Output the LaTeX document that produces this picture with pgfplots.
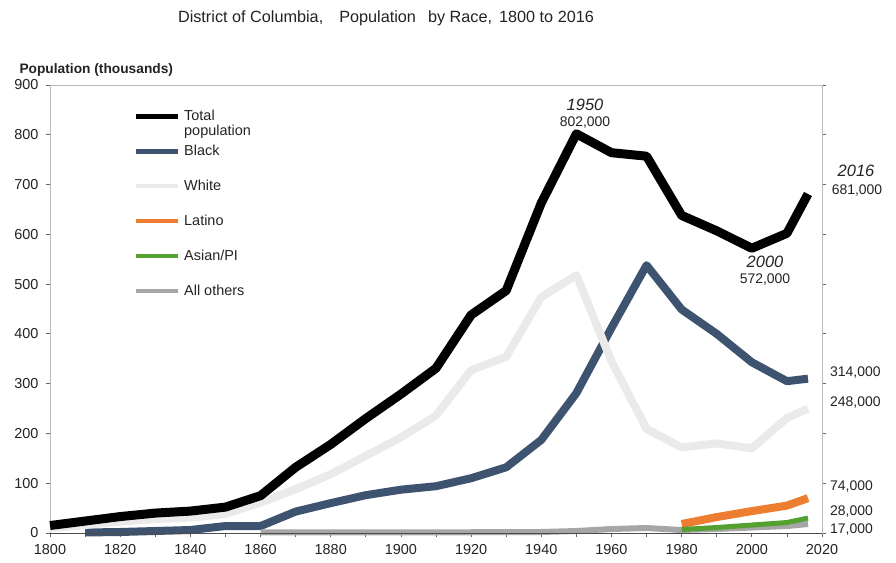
\documentclass[border=0pt]{standalone}
\usepackage{pgfplots}
\pgfplotsset{compat=1.18}
\usepackage{fontspec}
\setmainfont{Liberation Sans}
\definecolor{cblue}{RGB}{61,83,112}
\definecolor{cwhite}{RGB}{234,234,234}
\definecolor{corange}{RGB}{237,125,49}
\definecolor{cgreen}{RGB}{84,160,48}
\definecolor{cgray}{RGB}{166,166,166}
\definecolor{txt}{RGB}{35,35,35}
\begin{document}
\begin{tikzpicture}[x=1bp,y=1bp]
\path[use as bounding box] (0,0) rectangle (896,563);
\begin{axis}[
  at={(50bp,30bp)}, anchor=south west,
  scale only axis, width=772bp, height=448bp,
  xmin=1800, xmax=2020, ymin=0, ymax=900,
  xtick={1800,1820,...,2020}, minor xtick={1810,1830,...,2010},
  ytick={0,100,...,900},
  xtick pos=bottom, ytick pos=both, yticklabel pos=left,
  tick align=outside,
  major tick length=4bp, minor tick length=4bp,
  tick style={color=black!60, line width=0.8bp},
  axis line style={draw=black!28, line width=0.8bp},
  ticklabel style={font=\fontsize{14.5}{16}\selectfont, text=txt},
  yticklabel style={xshift=-4bp},
  xticklabel style={yshift=-4bp},
  /pgf/number format/assume math mode=true,
  /pgf/number format/1000 sep={},
  legend style={at={(0.1075,0.946)}, anchor=north west, draw=none, fill=none,
    inner sep=0pt, row sep=21bp, column sep=4bp,
    font=\fontsize{14.5}{16}\selectfont, text=txt,
    nodes={inner sep=0pt, text height=11bp, text depth=3bp}},
  legend cell align=left,
  legend image code/.code={\draw[#1] (0bp,0bp) -- (42bp,0bp);},
  after end axis/.code={\draw[black!70, line width=0.9bp] (rel axis cs:0,0) -- (rel axis cs:1,0);},
  clip=false,
]
\addlegendimage{black, line width=5bp}
\addlegendentry{\smash{\rlap{Total}\raisebox{-15bp}{population}}}
\addlegendimage{cblue, line width=5bp}
\addlegendentry{Black}
\addlegendimage{cwhite, line width=4bp}
\addlegendentry{White}
\addlegendimage{corange, line width=4bp}
\addlegendentry{Latino}
\addlegendimage{cgreen, line width=4bp}
\addlegendentry{Asian/PI}
\addlegendimage{cgray, line width=4bp}
\addlegendentry{All others}

% Black
\addplot[cblue, line width=8bp, line join=round, forget plot] coordinates {
(1810,1) (1820,2) (1830,4) (1840,6) (1850,14) (1860,14) (1870,43) (1880,60)
(1890,76) (1900,87) (1910,94) (1920,110) (1930,132) (1940,187) (1950,281)
(1960,412) (1970,538) (1980,449) (1990,400) (2000,343) (2010,305) (2016,310)};
% White
\addplot[cwhite, line width=8bp, line join=round, forget plot] coordinates {
(1800,10) (1810,16) (1820,23) (1830,28) (1840,31) (1850,38) (1860,61) (1870,88)
(1880,118) (1890,155) (1900,192) (1910,236) (1920,327) (1930,354) (1940,474)
(1950,518) (1960,345) (1970,209) (1980,172) (1990,180) (2000,170) (2010,231) (2016,250)};
% All others
\addplot[cgray, line width=6bp, line join=round, forget plot] coordinates {
(1860,1) (1900,1) (1940,2) (1950,4) (1960,8) (1970,10) (1980,6)
(1990,8) (2000,11) (2010,14) (2016,18)};
% Latino
\addplot[corange, line width=8bp, line join=round, forget plot] coordinates {
(1980,18) (1990,32) (2000,44) (2010,55) (2016,70)};
% Asian/PI
\addplot[cgreen, line width=5bp, line join=round, forget plot] coordinates {
(1980,7) (1990,11) (2000,16) (2010,21) (2016,30)};
% Total
\addplot[black, line width=9bp, line join=round, forget plot] coordinates {
(1800,15) (1810,24) (1820,33) (1830,40) (1840,44) (1850,52) (1860,75) (1870,132)
(1880,178) (1890,230) (1900,279) (1910,331) (1920,438) (1930,487) (1940,663)
(1950,802) (1960,764) (1970,757) (1980,638) (1990,607) (2000,572) (2010,602) (2016,681)};
\end{axis}
\node[font=\fontsize{16.3}{18}\selectfont, text=txt] at (386,545) {District of Columbia,\hspace{16bp}Population\hspace{12bp}by Race,\hspace{7bp}1800 to 2016};
\node[anchor=west, font=\bfseries\fontsize{13.8}{16}\selectfont, text=txt] at (16,493) {Population (thousands)};
\begin{scope}[every node/.style={text=txt, inner sep=0pt}]
\node[font=\itshape\fontsize{16.5}{18}\selectfont] at (585,458) {1950};
\node[font=\fontsize{14}{16}\selectfont] at (585,440) {802,000};
\node[font=\itshape\fontsize{16.5}{18}\selectfont] at (856,392) {2016};
\node[font=\fontsize{14}{16}\selectfont] at (857,372) {681,000};
\node[font=\itshape\fontsize{16.5}{18}\selectfont] at (765,301) {2000};
\node[font=\fontsize{14}{16}\selectfont] at (765,283) {572,000};
\node[anchor=west, font=\fontsize{14}{16}\selectfont] at (830,190) {314,000};
\node[anchor=west, font=\fontsize{14}{16}\selectfont] at (830,160) {248,000};
\node[anchor=west, font=\fontsize{14}{16}\selectfont] at (830,76) {74,000};
\node[anchor=west, font=\fontsize{14}{16}\selectfont] at (830,51) {28,000};
\node[anchor=west, font=\fontsize{14}{16}\selectfont] at (830,33) {17,000};
\end{scope}
\end{tikzpicture}
\end{document}
